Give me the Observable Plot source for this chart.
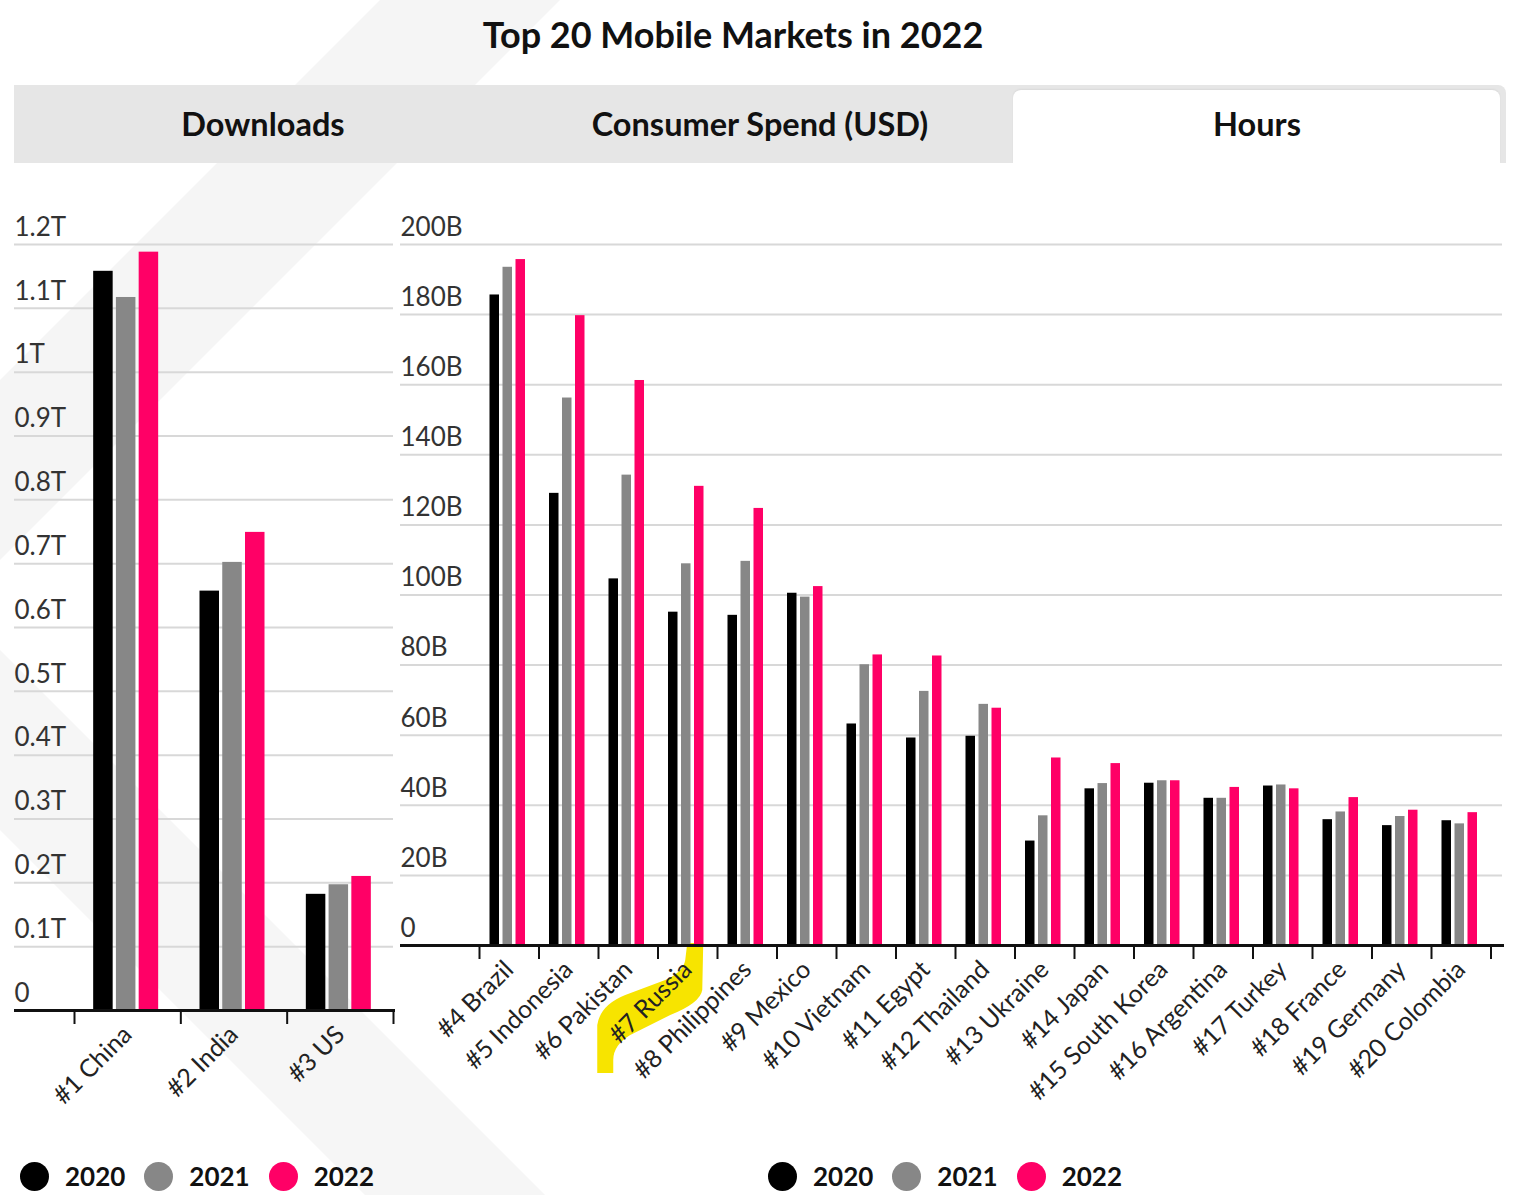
<!DOCTYPE html>
<html><head><meta charset="utf-8">
<script src="https://cdn.jsdelivr.net/npm/d3@7"></script>
<script src="https://cdn.jsdelivr.net/npm/@observablehq/plot@0.6"></script>
<style>
body{margin:0;background:#fff;font-family:Lato,sans-serif;}
#page{position:relative;width:1536px;height:1195px;overflow:hidden;background:#fff;}
.abs{position:absolute;}
#bg{left:0;top:0;}
#title{left:0;width:1466px;top:12px;text-align:center;font-size:36px;font-weight:700;color:#111;}
#tabbar{left:14px;top:85px;width:1492px;height:78px;background:#e6e6e6;border-radius:0 8px 0 0;}
#tabsel{left:1013px;top:90px;width:487px;height:73px;background:#fff;border-radius:8px 8px 0 0;box-shadow:0 -1px 2px rgba(0,0,0,0.06);}
.tab{top:104px;font-size:32.5px;font-weight:700;color:#111;text-align:center;width:500px;}
.chart{top:200px;}
.leg{top:1160px;height:32px;line-height:28px;display:flex;align-items:center;font-size:26px;font-weight:700;color:#111;}
.dot{width:29px;height:29px;border-radius:50%;display:inline-block;}
</style></head>
<body><div id="page">
<svg id="bg" class="abs" width="1536" height="1195">
  <polygon points="380,0 560,0 0,560 0,380" fill="#f5f5f5"/>
  <polygon points="0,650 0,830 365,1195 545,1195" fill="#f6f6f6"/>
</svg>
<div id="title" class="abs">Top 20 Mobile Markets in 2022</div>
<div id="tabbar" class="abs"></div>
<div id="tabsel" class="abs"></div>
<div class="abs tab" style="left:13px">Downloads</div>
<div class="abs tab" style="left:510px">Consumer Spend (USD)</div>
<div class="abs tab" style="left:1007px">Hours</div>
<div id="left" class="abs chart" style="left:0px"></div>
<div id="right" class="abs chart" style="left:390px"></div>
<div id="legL" class="abs leg" style="left:20px"></div>
<div id="legR" class="abs leg" style="left:768px"></div>
</div>
<script>
// ---------- data ----------
const years = ["2020", "2021", "2022"];
const colors = ["#000000", "#878787", "#ff0066"];

const leftCountries = ["#1 China", "#2 India", "#3 US"];
const left2020 = [1.158, 0.657, 0.182];
const left2021 = [1.117, 0.702, 0.197];
const left2022 = [1.188, 0.749, 0.210];
const leftTicks = [0, 0.1, 0.2, 0.3, 0.4, 0.5, 0.6, 0.7, 0.8, 0.9, 1.0, 1.1, 1.2];
const leftTickLabels = ["0", "0.1T", "0.2T", "0.3T", "0.4T", "0.5T", "0.6T", "0.7T", "0.8T", "0.9T", "1T", "1.1T", "1.2T"];

const rightCountries = ["#4 Brazil", "#5 Indonesia", "#6 Pakistan", "#7 Russia", "#8 Philippines", "#9 Mexico",
  "#10 Vietnam", "#11 Egypt", "#12 Thailand", "#13 Ukraine", "#14 Japan", "#15 South Korea", "#16 Argentina",
  "#17 Turkey", "#18 France", "#19 Germany", "#20 Colombia"];
const right2020 = [185.6, 129.0, 104.6, 95.1, 94.2, 100.5, 63.2, 59.2, 59.7, 29.8, 44.7, 46.3, 42.0, 45.5, 35.9, 34.2, 35.6];
const right2021 = [193.5, 156.2, 134.2, 108.9, 109.6, 99.4, 80.1, 72.5, 68.8, 37.0, 46.2, 47.0, 42.0, 45.8, 38.1, 36.8, 34.7];
const right2022 = [195.7, 179.7, 161.2, 131.0, 124.7, 102.4, 82.9, 82.6, 67.7, 53.5, 51.9, 47.0, 45.1, 44.7, 42.2, 38.6, 37.9];
const rightTicks = [0, 20, 40, 60, 80, 100, 120, 140, 160, 180, 200];
const rightTickLabels = ["0", "20B", "40B", "60B", "80B", "100B", "120B", "140B", "160B", "180B", "200B"];
const highlighted = "#7 Russia";

// ---------- chart builder ----------
function makeChart(o) {
  const series = [o.v2020, o.v2021, o.v2022];
  const rows = o.countries.flatMap((c, i) => years.map((y, j) => ({country: c, year: y, value: series[j][i]})));
  const bw = (o.width - o.marginLeft - o.marginRight) / o.countries.length;
  const inset = (bw - o.barW) / 2;
  const marks = [
    Plot.ruleY(o.ticks.slice(1), {stroke: "#d8d8d8", strokeWidth: 2, insetLeft: o.gridInsetLeft, insetRight: o.gridInsetRight}),
    ...years.map((y, j) => Plot.barY(rows.filter(d => d.year === y), {
      x: "country", y: "value", fill: colors[j], insetLeft: inset, insetRight: inset, dx: -1.5 + (j - 1) * o.barStep
    })),
    Plot.ruleY([0], {stroke: "#111", strokeWidth: 3, insetLeft: o.gridInsetLeft, insetRight: o.axisInsetRight}),
    Plot.axisX({tickSize: 14, strokeWidth: 2, stroke: "#111", tickFormat: () => "", label: null, dx: -bw / 2}),
    Plot.axisX([o.countries[o.countries.length - 1]], {tickSize: 14, strokeWidth: 2, stroke: "#111", tickFormat: () => "", label: null, dx: bw / 2}),
    Plot.axisX({tickSize: 0, tickPadding: 20, tickRotate: -45, fontSize: 25, fill: "#222", label: null}),
    Plot.text(o.ticks, {y: d => d, text: (d, i) => o.tickLabels[i], frameAnchor: "left", textAnchor: "start",
      dx: o.gridInsetLeft, dy: -17, fontSize: 26, fill: "#333"})
  ];
  return Plot.plot({
    width: o.width, height: o.height,
    marginLeft: o.marginLeft, marginRight: o.marginRight, marginTop: o.marginTop, marginBottom: o.marginBottom,
    x: {type: "band", domain: o.countries, padding: 0, round: false, label: null},
    y: {domain: [0, o.max], axis: null},
    style: {fontFamily: "Lato", overflow: "visible", background: "transparent"},
    marks
  });
}

const leftChart = makeChart({
  countries: leftCountries, v2020: left2020, v2021: left2021, v2022: left2022,
  ticks: leftTicks, tickLabels: leftTickLabels, max: 1.2,
  width: 400, height: 920, marginLeft: 74, marginRight: 7, marginTop: 44, marginBottom: 110,
  barW: 19.5, barStep: 22.75, gridInsetLeft: -60, gridInsetRight: 0, axisInsetRight: -2
});
document.getElementById("left").appendChild(leftChart);

const rightChart = makeChart({
  countries: rightCountries, v2020: right2020, v2021: right2021, v2022: right2022,
  ticks: rightTicks, tickLabels: rightTickLabels, max: 200,
  width: 1146, height: 945, marginLeft: 89, marginRight: 45.5, marginTop: 44, marginBottom: 200,
  barW: 9.5, barStep: 13, gridInsetLeft: -79, gridInsetRight: -11.5, axisInsetRight: -13.5
});
document.getElementById("right").appendChild(rightChart);

// highlighter stroke behind the highlighted label, positioned from the chart's own scales
{
  const xs = rightChart.scale("x"), ys = rightChart.scale("y");
  const cx = xs.apply(highlighted) + xs.bandwidth / 2, y0 = ys.apply(0);
  const p = d3.path();
  const P = (dx, dy) => [cx + dx, y0 + dy];
  p.moveTo(...P(0, -2)); p.lineTo(...P(16, -2)); p.lineTo(...P(15, 45));
  p.quadraticCurveTo(...P(13, 58), ...P(-17, 70)); p.lineTo(...P(-57, 90));
  p.quadraticCurveTo(...P(-74, 100), ...P(-74, 115)); p.lineTo(...P(-74, 128)); p.lineTo(...P(-90, 128));
  p.lineTo(...P(-90, 80)); p.quadraticCurveTo(...P(-87, 60), ...P(-62, 50)); p.lineTo(...P(-22, 35));
  p.quadraticCurveTo(...P(-4, 27), ...P(-2, 15)); p.closePath();
  d3.select(rightChart).insert("path", ":first-child").attr("d", p.toString()).attr("fill", "#f7e400");
}

// legends
for (const id of ["legL", "legR"]) {
  const el = d3.select("#" + id);
  years.forEach((y, j) => {
    el.append("span").attr("class", "dot").style("background", colors[j])
      .style("margin-left", j === 0 ? "0px" : "19px").style("margin-right", "16px");
    el.append("span").text(y);
  });
}
</script>
</body></html>
